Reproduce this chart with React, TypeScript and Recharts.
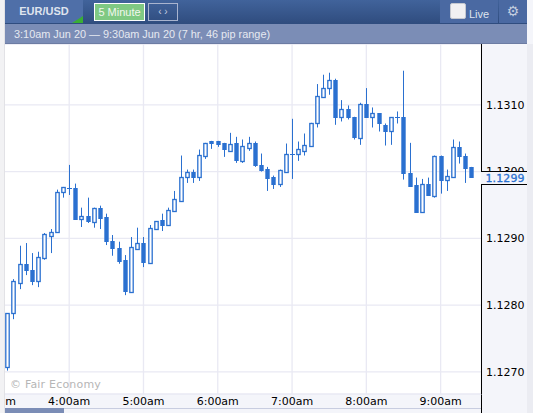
import { Bar, CartesianGrid, ComposedChart, XAxis, YAxis } from "recharts";

// candles every 5 minutes, starting at 3:10am
const opens = [
  1.12708, 1.12788, 1.12833, 1.12862, 1.12853, 1.12836, 1.12871, 1.12904, 1.1291, 1.1297, 1.12976, 1.12976, 1.12929,
  1.12934, 1.12925, 1.12946, 1.12932, 1.12896, 1.12886, 1.12868, 1.1282, 1.12884, 1.12893, 1.12863, 1.12914, 1.12928,
  1.1292, 1.12941, 1.12956, 1.12992, 1.13, 1.12992, 1.13024, 1.13046, 1.13046, 1.13043, 1.13031, 1.13043, 1.13016,
  1.13036, 1.13043, 1.1301, 1.13004, 1.12992, 1.12982, 1.13, 1.13027, 1.13027, 1.13031, 1.13039, 1.13072, 1.13112,
  1.13125, 1.13137, 1.13082, 1.13094, 1.13082, 1.13051, 1.13101, 1.13082, 1.13087, 1.1307, 1.1306, 1.13081, 1.13081,
  1.12998, 1.1298, 1.1294, 1.12982, 1.12964, 1.13024, 1.12988, 1.12992, 1.13037, 1.13024, 1.13007,
];
const highs = [
  1.12788, 1.12839, 1.12889, 1.12893, 1.12878, 1.1288, 1.12908, 1.12914, 1.12973, 1.12977, 1.1301, 1.12982, 1.12946,
  1.12961, 1.12946, 1.12949, 1.12937, 1.12905, 1.12895, 1.12875, 1.12902, 1.12916, 1.12902, 1.1292, 1.12926, 1.12937,
  1.12946, 1.12971, 1.13024, 1.13003, 1.13003, 1.13033, 1.13043, 1.13046, 1.13046, 1.13043, 1.13058, 1.13052, 1.13048,
  1.13052, 1.13045, 1.13027, 1.13007, 1.12994, 1.13003, 1.13042, 1.13079, 1.13045, 1.13057, 1.13073, 1.13131, 1.13145,
  1.13148, 1.13139, 1.13107, 1.13099, 1.13082, 1.13103, 1.13125, 1.13096, 1.13087, 1.13072, 1.13081, 1.1309, 1.13151,
  1.13043, 1.12991, 1.12989, 1.12991, 1.13024, 1.13024, 1.13003, 1.13048, 1.13045, 1.13027, 1.13007,
];
const lows = [
  1.12702, 1.12779, 1.12824, 1.12845, 1.1283, 1.12827, 1.12868, 1.12878, 1.1291, 1.12961, 1.12965, 1.12929, 1.12917,
  1.12923, 1.12916, 1.12914, 1.1289, 1.12874, 1.12862, 1.12815, 1.1282, 1.12884, 1.12857, 1.12862, 1.12914, 1.12911,
  1.1292, 1.1294, 1.12956, 1.12983, 1.12983, 1.12986, 1.13019, 1.13034, 1.13037, 1.13022, 1.1303, 1.13013, 1.13013,
  1.13031, 1.13007, 1.13, 1.12971, 1.12974, 1.12977, 1.13, 1.12989, 1.13016, 1.13024, 1.13039, 1.13066, 1.13112,
  1.13115, 1.1307, 1.13075, 1.13078, 1.13048, 1.1304, 1.13082, 1.13066, 1.1306, 1.13039, 1.1304, 1.13072, 1.12988,
  1.12977, 1.1294, 1.1294, 1.12964, 1.12961, 1.12967, 1.12971, 1.12992, 1.13012, 1.12983, 1.12992,
];
const closes = [
  1.12788, 1.12836, 1.12862, 1.12853, 1.12836, 1.12872, 1.12907, 1.1291, 1.1297, 1.12977, 1.12976, 1.12929, 1.12934,
  1.12926, 1.12946, 1.12931, 1.12896, 1.12886, 1.12866, 1.12821, 1.12887, 1.12893, 1.12865, 1.12916, 1.12926, 1.1292,
  1.12943, 1.12959, 1.12992, 1.13, 1.12992, 1.13025, 1.13043, 1.13043, 1.13042, 1.13034, 1.13042, 1.13018, 1.13039,
  1.13043, 1.1301, 1.13003, 1.12991, 1.12982, 1.13003, 1.13027, 1.13027, 1.13034, 1.1304, 1.13073, 1.13113, 1.13125,
  1.13137, 1.13082, 1.13094, 1.13082, 1.13052, 1.13101, 1.13082, 1.13087, 1.13072, 1.1306, 1.13081, 1.13081, 1.12998,
  1.12979, 1.1294, 1.12982, 1.12965, 1.13024, 1.12988, 1.12994, 1.13037, 1.13024, 1.13006, 1.12992,
];

const hourTicks = [180, 240, 300, 360, 420, 480, 540];
const hourLabels = ["3:00am", "4:00am", "5:00am", "6:00am", "7:00am", "8:00am", "9:00am"];
const priceTicks = [1.127, 1.128, 1.129, 1.13, 1.131];

const data = opens.map((open, i) => ({
  minute: 190 + i * 5,
  open,
  close: closes[i],
  high: highs[i],
  low: lows[i],
  range: [lows[i], highs[i]],
}));

const BLUE = "#2a70d0";
const AXIS_FONT = "'DejaVu Sans', sans-serif";
const HEAD_FONT = "'Liberation Sans', Arial, sans-serif";

function Candle(props: any) {
  const { x, y, width, height, payload } = props;
  const pxPerPrice = height / (payload.high - payload.low);
  const cx = Math.floor(x + width / 2) + 0.5;
  const bodyTop = Math.round(y + (payload.high - Math.max(payload.open, payload.close)) * pxPerPrice);
  const bodyBottom = Math.round(y + (payload.high - Math.min(payload.open, payload.close)) * pxPerPrice);
  const up = payload.close > payload.open;
  return (
    <g>
      <line x1={cx} x2={cx} y1={y} y2={y + height} stroke={BLUE} strokeWidth={1} />
      {bodyBottom === bodyTop ? (
        <line x1={cx - 2.5} x2={cx + 2.5} y1={bodyTop + 0.5} y2={bodyTop + 0.5} stroke={BLUE} />
      ) : up ? (
        <rect
          x={cx - 1.7}
          y={bodyTop + 0.5}
          width={3.4}
          height={bodyBottom - bodyTop}
          fill="#fff"
          stroke={BLUE}
          strokeWidth={1.3}
        />
      ) : (
        <rect x={cx - 2.2} y={bodyTop} width={4.4} height={bodyBottom - bodyTop + 1} fill={BLUE} />
      )}
    </g>
  );
}

const box = (left: number, top: number, width: number, height: number, extra: any = {}) =>
  ({ position: "absolute", left, top, width, height, ...extra }) as any;

export default function App() {
  return (
    <div style={{ position: "fixed", left: 0, top: 0, width: 533, height: 413, overflow: "hidden", background: "#f4f5fa" }}>
      {/* plot and time axis backgrounds */}
      <div style={box(5, 44, 476, 350, { background: "#fff" })} />
      <div style={box(527, 44, 6, 369, { background: "#ebecf2" })} />
      <div style={box(5, 408, 476, 1, { background: "#c8cde0" })} />
      <div style={box(5, 408, 59, 5, { background: "#7b8db6" })} />
      <div style={box(481, 394, 1, 19, { background: "#000" })} />

      <div style={{ position: "absolute", left: -20, top: 0 }}>
        <ComposedChart
          width={553}
          height={413}
          data={data}
          margin={{ top: 44, right: 0, bottom: 0, left: 14.9 }}
        >
          <CartesianGrid stroke="#e9e9f3" strokeWidth={1.3} />
          <XAxis
            dataKey="minute"
            type="number"
            domain={[180, 573]}
            ticks={hourTicks}
            interval={0}
            height={19}
            axisLine={false}
            tickLine={false}
            tickSize={0}
            tickMargin={3}
            tick={{ fontSize: 11, fontFamily: AXIS_FONT, fill: "#000" }}
            tickFormatter={(v: number) => hourLabels[hourTicks.indexOf(v)]}
          />
          <YAxis
            orientation="right"
            domain={[1.12667, 1.13191]}
            ticks={priceTicks}
            interval={0}
            width={51.5}
            allowDataOverflow
            axisLine={{ stroke: "#000" }}
            tickLine={false}
            tickSize={0}
            tickMargin={4.5}
            tick={{ fontSize: 11, fontFamily: AXIS_FONT, fill: "#000", textAnchor: "start" }}
            tickFormatter={(v: number) => v.toFixed(4)}
          />
          <Bar dataKey="range" barSize={5} isAnimationActive={false} shape={Candle} />
        </ComposedChart>
      </div>

      <div style={box(10, 378, 100, 14, { font: `11px ${AXIS_FONT}`, color: "#b6b6b6", letterSpacing: 0.2, whiteSpace: "nowrap" })}>
        © Fair Economy
      </div>

      {/* current price label */}
      <div
        style={box(481, 171, 46, 12, {
          background: "#f4f5fa",
          borderTop: "1px solid #000",
          borderBottom: "1px solid #000",
          color: BLUE,
          font: `11px/13px ${AXIS_FONT}`,
          textIndent: 4.5,
          letterSpacing: 0.1,
          WebkitTextStroke: "0.3px #2a70d0",
        })}
      >
        1.1299
      </div>

      {/* left strip */}
      <div style={box(0, 0, 5, 413, { background: "#f2f2f4", borderRight: "1px solid #e2e2e6", boxSizing: "border-box" })} />

      {/* header */}
      <div style={box(5, 0, 522, 24, { background: "linear-gradient(#41639b, #2f4c7e)" })} />
      <div style={box(5, 24, 522, 20, { background: "#7b8db6", borderBottom: "1px solid #6c7ca3", boxSizing: "border-box" })} />
      <div
        style={box(5, 0, 78, 23, {
          background: "#4f6fa8",
          color: "#dfe4ee",
          font: `bold 11px/22px ${HEAD_FONT}`,
          textAlign: "center",
        })}
      >
        EUR/USD
      </div>
      <div
        style={box(72, 16, 11, 7, {
          background: "#3aae35",
          clipPath: "polygon(100% 0, 100% 100%, 0 100%)",
        })}
      />
      <div
        style={box(94, 3, 51, 18, {
          background: "#7fc983",
          border: "1px solid #fff",
          boxSizing: "border-box",
          color: "#f2f7ee",
          font: `11px/16px ${HEAD_FONT}`,
          textAlign: "center",
        })}
      >
        5 Minute
      </div>
      <div
        style={box(148, 3, 30, 18, {
          border: "1px solid #a9b4cf",
          boxSizing: "border-box",
          color: "#c4cde0",
          font: `10px/15px ${HEAD_FONT}`,
          textAlign: "center",
        })}
      >
        ‹ ›
      </div>
      <div style={box(14, 24, 300, 20, { color: "#e6e9f1", font: `10.9px/20px ${HEAD_FONT}`, whiteSpace: "nowrap" })}>
        3:10am Jun 20 — 9:30am Jun 20 (7 hr, 46 pip range)
      </div>
      <div style={box(440, 0, 58, 23, { background: "#4a69a2" })} />
      <div style={box(499, 0, 28, 23, { background: "#4a69a2" })} />
      <div style={box(450, 3, 16, 16, { background: "#f0f0f2", borderRadius: 2, border: "1px solid #c4c8d0", boxSizing: "border-box" })} />
      <div style={box(469, 3, 28, 20, { color: "#dfe4ee", font: `11px/22px ${HEAD_FONT}` })}>Live</div>
      <div style={box(499, 0, 28, 23, { color: "#c3cddf", font: `14px/23px ${AXIS_FONT}`, textAlign: "center" })}>⚙</div>
    </div>
  );
}
